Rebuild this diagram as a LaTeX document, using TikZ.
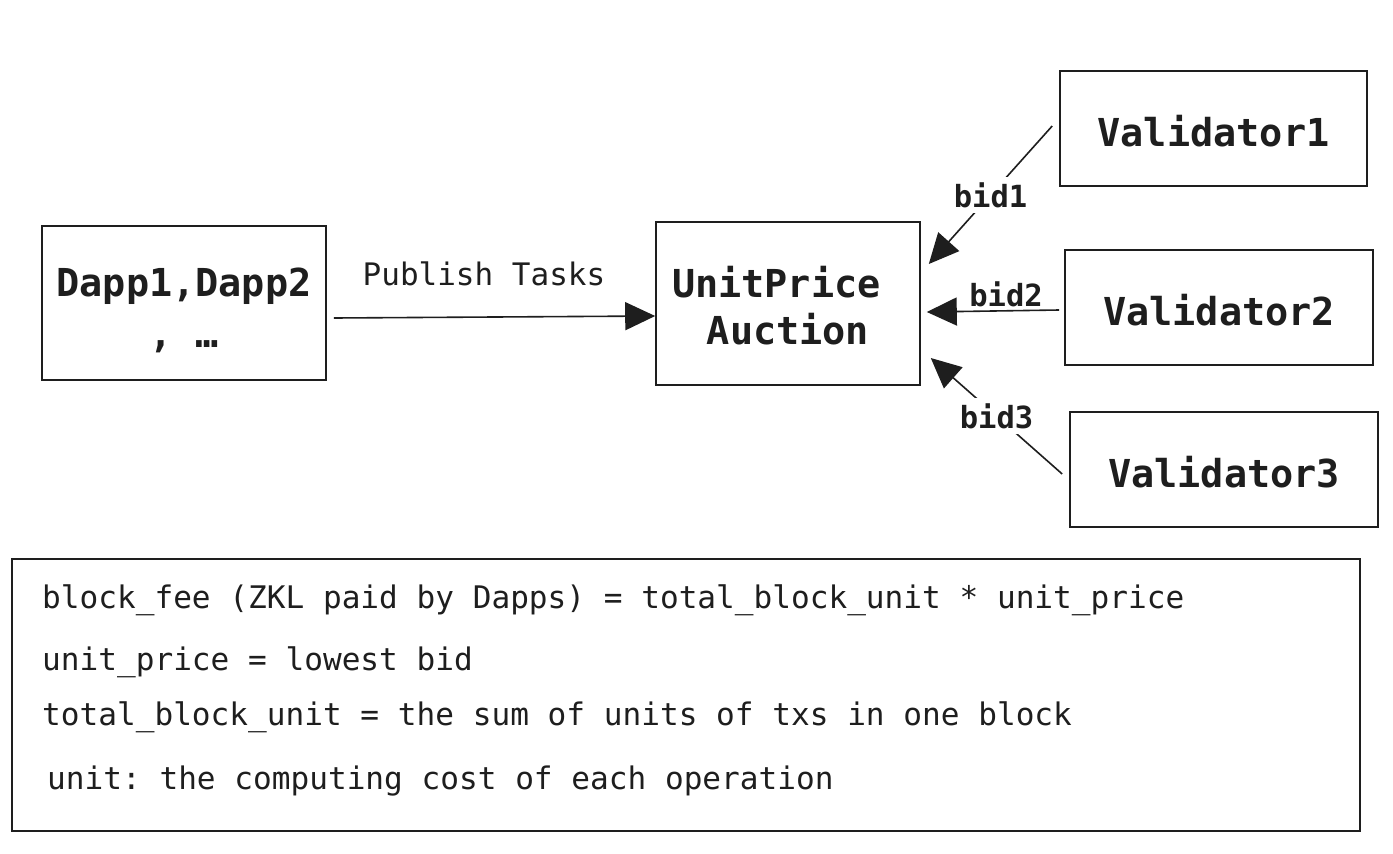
\documentclass[tikz,border=0pt]{standalone}
\usepackage{fontspec}
\setmainfont{DejaVu Sans Mono}
\usetikzlibrary{arrows.meta,calc}
\definecolor{ink}{HTML}{1E1E1E}
\frenchspacing
\tikzset{
  box/.style={draw=ink, line width=1.6pt, rectangle, inner sep=0pt, text=ink, align=center},
  bigtxt/.style={text=ink, align=center, inner sep=0pt, font=\fontsize{38.5}{53}\selectfont\bfseries},
  conn/.style={draw=ink, line width=1.6pt, -{Triangle[length=30pt,width=28pt]}},
  lbl/.style={text=ink, font=\fontsize{30.5}{36}\selectfont\bfseries, inner sep=5pt},
  note/.style={text=ink, font=\fontsize{31.1}{38}\selectfont, anchor=base west, inner sep=0pt}
}
\begin{document}
\begin{tikzpicture}[x=1pt,y=-1pt]
\useasboundingbox (0,0) rectangle (1393,854);
\fill[white] (0,0) rectangle (1393,854);
\node[box, minimum width=284pt, minimum height=154pt] (dapp) at (184,303) {};
\node[bigtxt, anchor=base] (dapp1) at (184,296) {Dapp1,Dapp2};
\node[bigtxt, anchor=base] (dapp2) at (184,347) {, …};
\node[box, minimum width=264pt, minimum height=163pt] (auct) at (788,303.5) {};
\node[bigtxt, anchor=base] (auct1) at (788,297) {UnitPrice\hphantom{x}};
\node[bigtxt, anchor=base] (auct2) at (788,344) {Auction};
\node[box, minimum width=307pt, minimum height=115pt] (v1) at (1213.5,128.5) {};
\node[bigtxt] (v1t) at (1213.5,131) {Validator1};
\node[box, minimum width=308pt, minimum height=115pt] (v2) at (1219,307.5) {};
\node[bigtxt] (v2t) at (1219,310) {Validator2};
\node[box, minimum width=308pt, minimum height=115pt] (v3) at (1224,469.5) {};
\node[bigtxt] (v3t) at (1224,472) {Validator3};
\node[box, minimum width=1348pt, minimum height=272pt] (info) at (686,695) {};
\node[note] (n1) at (42,608) {block\_fee (ZKL paid by Dapps) = total\_block\_unit * unit\_price};
\node[note] (n2) at (42,670) {unit\_price = lowest bid};
\node[note] (n3) at (42,725) {total\_block\_unit = the sum of units of txs in one block};
\node[note] (n4) at (47,789) {unit: the computing cost of each operation};

\coordinate (ps) at ($(dapp.east)+(7,15)$);
\coordinate (pe) at ($(auct.west)+(0,12.5)$);
\draw[conn] (ps) -- (pe) node[midway, xshift=-10.5pt, yshift=43pt, text=ink, font=\fontsize{31}{36}\selectfont] (pt) {Publish Tasks};

\coordinate (b1s) at ($(v1.west)+(-7,-2.5)$);
\coordinate (b1e) at ($(auct.east)+(8,-39.5)$);
\draw[conn] (b1s) -- (b1e) node[midway, lbl, fill=white] (l1) {bid1};

\coordinate (b2s) at ($(v2.west)+(-5,2.5)$);
\coordinate (b2e) at ($(auct.east)+(6,8.5)$);
\draw[conn] (b2s) -- (b2e) node[midway, lbl, xshift=13pt, yshift=17pt] (l2) {bid2};

\coordinate (b3s) at ($(v3.west)+(-7,4.5)$);
\coordinate (b3e) at ($(auct.east)+(10,54.5)$);
\draw[conn] (b3s) -- (b3e) node[midway, lbl, fill=white] (l3) {bid3};
\end{tikzpicture}
\end{document}
